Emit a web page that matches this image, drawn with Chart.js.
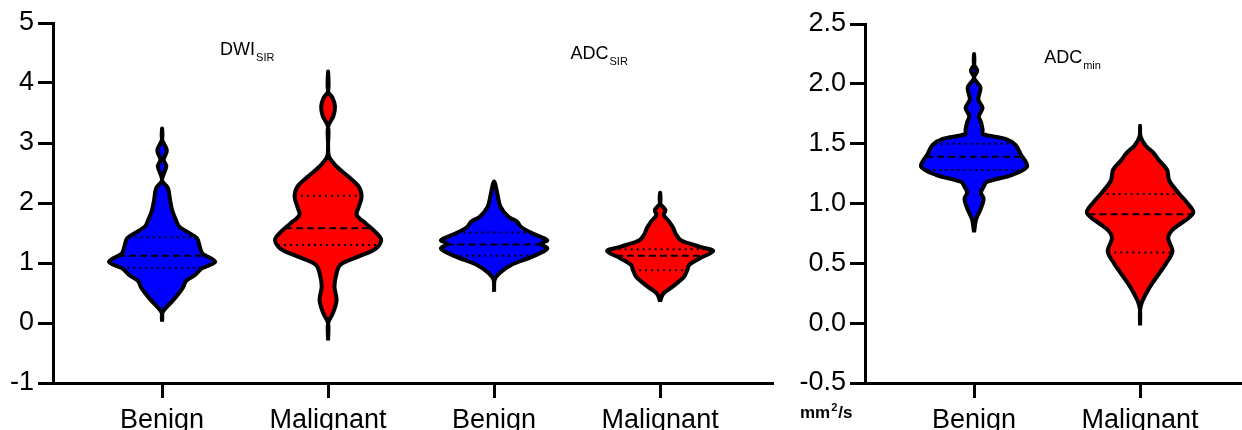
<!DOCTYPE html>
<html>
<head>
<meta charset="utf-8">
<script src="https://cdn.jsdelivr.net/npm/chart.js@4.4.1/dist/chart.umd.min.js"></script>
<style>
  html, body { margin: 0; padding: 0; background: #fff; }
  #wrap { position: relative; width: 1242px; height: 430px; overflow: hidden; }
  canvas { position: absolute; top: 0; }
  #left { left: 0; }
  #right { left: 780px; }
</style>
</head>
<body>
<div id="wrap">
  <canvas id="left" width="780" height="430"></canvas>
  <canvas id="right" width="462" height="430"></canvas>
</div>
<script>
// group names on the x axis
const groups = ['Benign', 'Malignant'];

// panel titles (main text + subscript)
const titleMain = ['DWI', 'ADC', 'ADC'];
const titleSub = ['SIR', 'SIR', 'min'];
const unitLabel = 'mm';

// y axis ticks
const leftTicksY = [-1, 0, 1, 2, 3, 4, 5];
const rightTicksY = [-0.5, 0, 0.5, 1, 1.5, 2, 2.5];

// violin outlines: y levels (bottom to top) and relative width (1 = widest)
const dwiBenignY = [0.02, 0.16, 0.26, 0.38, 0.50, 0.60, 0.70, 0.80, 0.91, 1.02, 1.16, 1.24, 1.41, 1.49, 1.61, 1.72, 1.88, 2.05, 2.25, 2.38, 2.61, 2.72, 2.88, 3.06, 3.24];
const dwiBenignW = [0, 0, 0.08, 0.21, 0.32, 0.40, 0.45, 0.62, 0.75, 1.0, 0.76, 0.72, 0.66, 0.53, 0.32, 0.26, 0.19, 0.15, 0.11, 0, 0.08, 0.03, 0.09, 0, 0];

const dwiMalY = [-0.29, 0.00, 0.16, 0.38, 0.61, 0.83, 0.97, 1.11, 1.24, 1.38, 1.49, 1.66, 1.80, 1.94, 2.10, 2.27, 2.44, 2.60, 2.77, 3.00, 3.27, 3.45, 3.61, 3.76, 3.86, 4.19];
const dwiMalW = [0, 0, 0.09, 0.16, 0.12, 0.16, 0.23, 0.58, 0.90, 1.0, 0.92, 0.71, 0.54, 0.58, 0.63, 0.58, 0.38, 0.17, 0.02, 0, 0, 0.10, 0.13, 0.08, 0, 0];

const adcSirBenY = [0.52, 0.72, 0.83, 0.97, 1.11, 1.24, 1.32, 1.38, 1.49, 1.60, 1.69, 1.77, 1.94, 2.16, 2.36];
const adcSirBenW = [0, 0.01, 0.10, 0.33, 0.73, 1.0, 0.88, 1.0, 0.73, 0.51, 0.43, 0.27, 0.12, 0.06, 0];

const adcSirMalY = [0.36, 0.49, 0.61, 0.77, 0.88, 0.97, 1.08, 1.20, 1.27, 1.38, 1.49, 1.58, 1.69, 1.80, 1.88, 2.00, 2.17];
const adcSirMalW = [0, 0.06, 0.24, 0.45, 0.51, 0.55, 0.75, 1.0, 0.75, 0.39, 0.29, 0.25, 0.17, 0.07, 0.10, 0, 0];

const adcMinBenY = [0.76, 0.87, 0.96, 1.04, 1.09, 1.14, 1.18, 1.24, 1.31, 1.41, 1.49, 1.54, 1.58, 1.62, 1.68, 1.73, 1.80, 1.87, 1.97, 2.05, 2.11, 2.16, 2.25];
const adcMinBenW = [0, 0.04, 0.13, 0.18, 0.13, 0.18, 0.24, 0.72, 1.0, 0.88, 0.78, 0.59, 0.17, 0.16, 0.13, 0.09, 0.16, 0.08, 0.12, 0, 0.06, 0, 0];

const adcMinMalY = [-0.02, 0.11, 0.18, 0.26, 0.34, 0.50, 0.60, 0.71, 0.78, 0.92, 1.01, 1.08, 1.19, 1.28, 1.36, 1.43, 1.48, 1.56, 1.65];
const adcMinMalW = [0, 0, 0.04, 0.13, 0.24, 0.49, 0.61, 0.53, 0.61, 1.0, 0.88, 0.74, 0.55, 0.51, 0.36, 0.24, 0.11, 0.01, 0];

// quartiles: [Q1, median, Q3]
const dwiBenignQ = [0.92, 1.12, 1.43];
const dwiMalQ = [1.30, 1.58, 2.12];
const adcSirBenQ = [1.12, 1.31, 1.51];
const adcSirMalQ = [0.88, 1.12, 1.23];
const adcMinBenQ = [1.28, 1.39, 1.50];
const adcMinMalQ = [0.59, 0.91, 1.08];

const BLUE = '#0000ff';
const RED = '#ff0000';
const FONT = 'Arial, "Liberation Sans", sans-serif';
const MAX_HW = 0.32; // widest half-width, in category units

function outline(center, ys, ws) {
  const pts = [];
  for (let i = 0; i < ys.length; i++) pts.push({ x: center + ws[i] * MAX_HW, y: ys[i] });
  for (let i = ys.length - 2; i >= 0; i--) pts.push({ x: center - ws[i] * MAX_HW, y: ys[i] });
  return pts;
}

function widthAt(ys, ws, y) {
  for (let i = 0; i < ys.length - 1; i++) {
    if (y >= ys[i] && y <= ys[i + 1]) {
      const t = (y - ys[i]) / (ys[i + 1] - ys[i]);
      return (ws[i] + t * (ws[i + 1] - ws[i])) * MAX_HW;
    }
  }
  return 0;
}

function violinSets(center, ys, ws, q, color) {
  const sets = [{
    data: outline(center, ys, ws),
    showLine: true,
    fill: 'shape',
    backgroundColor: color,
    borderColor: '#000',
    borderWidth: 4,
    borderJoinStyle: 'round',
    tension: 0.32,
    pointRadius: 0,
    order: 1
  }];
  q.forEach((v, i) => {
    const hw = widthAt(ys, ws, v);
    sets.push({
      data: [{ x: center - hw, y: v }, { x: center + hw, y: v }],
      showLine: true,
      fill: false,
      borderColor: '#000',
      borderWidth: 2,
      borderDash: i === 1 ? [7, 4] : [2, 4],
      pointRadius: 0,
      order: 0
    });
  });
  return sets;
}

// draws "MAIN" with a subscript, plus the unit label under the right y axis
const subTitles = {
  id: 'subTitles',
  afterDraw(chart, args, opts) {
    const { ctx, scales: { x, y } } = chart;
    ctx.save();
    ctx.fillStyle = '#000';
    ctx.textBaseline = 'alphabetic';
    opts.items.forEach(t => {
      ctx.font = '18px ' + FONT;
      const w1 = ctx.measureText(t.main).width;
      ctx.font = '11px ' + FONT;
      const w2 = ctx.measureText(t.sub).width;
      const px = x.getPixelForValue(t.x) - (w1 + w2) / 2;
      const py = y.getPixelForValue(t.y);
      ctx.font = '18px ' + FONT;
      ctx.fillText(t.main, px, py);
      ctx.font = '11px ' + FONT;
      ctx.fillText(t.sub, px + w1 + 1, py + 6);
    });
    if (opts.unit) {
      const ux = chart.chartArea.left - 65;
      const uy = chart.chartArea.bottom + 35;
      ctx.font = 'bold 17px ' + FONT;
      ctx.fillText(unitLabel, ux, uy);
      const w = ctx.measureText(unitLabel).width;
      ctx.font = 'bold 11px ' + FONT;
      ctx.fillText('2', ux + w + 1, uy - 7);
      ctx.font = 'bold 17px ' + FONT;
      ctx.fillText('/s', ux + w + 8, uy);
    }
    ctx.restore();
  }
};

function axisOpts(extra) {
  return Object.assign({
    grid: { display: true, drawOnChartArea: false, drawTicks: true, tickLength: 15, tickWidth: 3, tickColor: '#000', color: '#000', lineWidth: 3 },
    border: { display: true, color: '#000', width: 3 },
  }, extra);
}

function makeChart(id, datasets, xMin, xMax, yTicks, yWidth, padTop, padRight, fmt, titles, unit) {
  return new Chart(document.getElementById(id), {
    type: 'scatter',
    data: { datasets },
    options: {
      responsive: false,
      animation: false,
      layout: { padding: { top: padTop, right: padRight, left: 0, bottom: 0 } },
      plugins: { legend: { display: false }, tooltip: { enabled: false }, subTitles: { items: titles, unit } },
      scales: {
        x: axisOpts({
          type: 'linear', position: 'bottom', min: xMin, max: xMax,
          afterBuildTicks: s => { s.ticks = datasets.filter(d => d.order === 1).map((d, i) => ({ value: i })); },
          afterFit: s => { s.height = 47; },
          ticks: { autoSkip: false, maxRotation: 0, padding: 6, color: '#000', font: { size: 27, family: FONT }, callback: v => groups[v % 2] }
        }),
        y: axisOpts({
          type: 'linear', min: yTicks[0], max: yTicks[yTicks.length - 1],
          afterBuildTicks: s => { s.ticks = yTicks.map(v => ({ value: v })); },
          afterFit: s => { s.width = yWidth; },
          ticks: { padding: 4, color: '#000', font: { size: 27, family: FONT }, callback: fmt }
        })
      }
    },
    plugins: [subTitles]
  });
}

const leftSets = [].concat(
  violinSets(0, dwiBenignY, dwiBenignW, dwiBenignQ, BLUE),
  violinSets(1, dwiMalY, dwiMalW, dwiMalQ, RED),
  violinSets(2, adcSirBenY, adcSirBenW, adcSirBenQ, BLUE),
  violinSets(3, adcSirMalY, adcSirMalW, adcSirMalQ, RED)
);
const rightSets = [].concat(
  violinSets(0, adcMinBenY, adcMinBenW, adcMinBenQ, BLUE),
  violinSets(1, adcMinMalY, adcMinMalW, adcMinMalQ, RED)
);

makeChart('left', leftSets, -0.657, 3.674, leftTicksY, 53, 23, 8, v => String(v),
  [{ main: titleMain[0], sub: titleSub[0], x: 0.51, y: 4.47 },
   { main: titleMain[1], sub: titleSub[1], x: 2.63, y: 4.40 }], false);

makeChart('right', rightSets, -0.657, 1.614, rightTicksY, 85, 24, 0, v => v.toFixed(1),
  [{ main: titleMain[2], sub: titleSub[2], x: 0.59, y: 2.17 }], true);
</script>
</body>
</html>
